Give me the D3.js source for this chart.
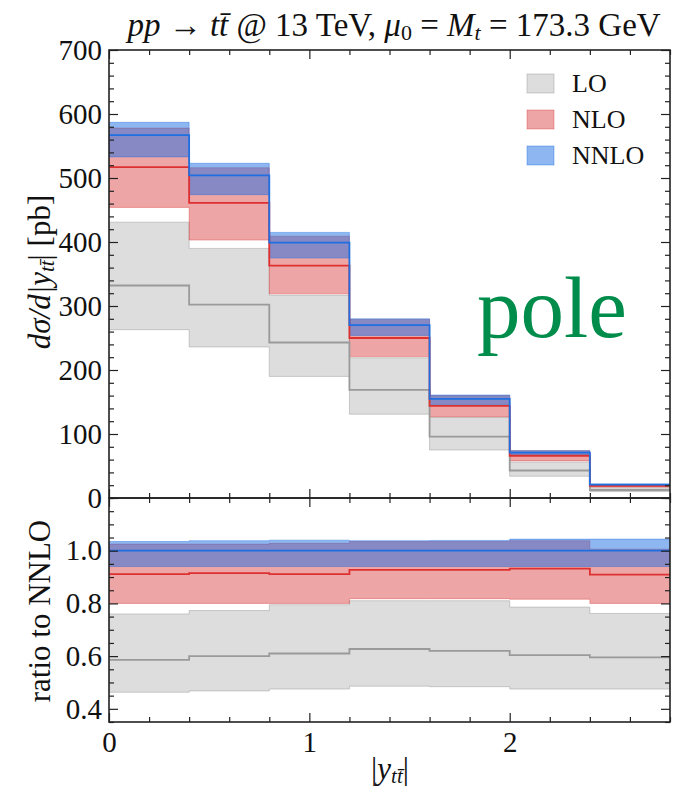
<!DOCTYPE html>
<html lang="en">
<head>
  <meta charset="UTF-8">
  <title>pp -> tt rapidity</title>
  <script src="https://d3js.org/d3.v7.min.js"></script>
  <style>
    body { margin: 0; background: #fff; }
    text { font-family: "Liberation Serif", "DejaVu Serif", serif; fill: #111; }
  </style>
</head>
<body>
  <div id="chart"></div>
  <script>
    // bin edges in |y_tt|
    const edges = [0, 0.4, 0.8, 1.2, 1.6, 2.0, 2.4, 2.8];

    // upper panel, pb
    const nnlo   = [567, 504, 399, 270, 155, 71, 21];
    const nnloHi = [587, 523, 415, 280, 161, 74, 22];
    const nnloLo = [533, 474, 375, 254, 146, 67, 20];
    const nlo    = [517, 461, 363, 250, 144, 66, 19];
    const nloHi  = [578, 516, 409, 279, 160, 74, 21];
    const nloLo  = [454, 403, 319, 221, 127, 58, 17];
    const lo     = [332, 302, 243, 169, 96, 43, 12.5];
    const loHi   = [431, 390, 317, 219, 126, 56, 16];
    const loLo   = [263, 236, 190, 131, 75, 34, 10];

    // lower panel, ratio to NNLO
    const rNnlo   = [1, 1, 1, 1, 1, 1, 1];
    const rNnloHi = [1.035, 1.038, 1.040, 1.038, 1.039, 1.044, 1.044];
    const rNnloLo = [0.94, 0.94, 0.94, 0.94, 0.94, 0.94, 0.94];
    const rNlo    = [0.911, 0.915, 0.911, 0.927, 0.927, 0.932, 0.909];
    const rNloHi  = [1.025, 1.025, 1.028, 1.035, 1.035, 1.038, 1.006];
    const rNloLo  = [0.80, 0.80, 0.80, 0.818, 0.818, 0.816, 0.80];
    const rLo     = [0.586, 0.600, 0.610, 0.627, 0.620, 0.604, 0.595];
    const rLoHi   = [0.760, 0.773, 0.795, 0.810, 0.810, 0.786, 0.762];
    const rLoLo   = [0.463, 0.468, 0.475, 0.486, 0.484, 0.475, 0.475];

    const yTicksTop = [0, 100, 200, 300, 400, 500, 600, 700];
    const yTicksBot = [0.4, 0.6, 0.8, 1.0];
    const xTicks = [0, 1, 2];
    const legendNames = ["LO", "NLO", "NNLO"];

    const W = 673, H = 793;
    const L = 109, R = 670, T1 = 50, B1 = 498, B2 = 722;

    const col = {
      LO:   { fill: "rgba(175,175,175,0.42)", edge: "rgba(150,150,150,0.45)", line: "#9a9a9a" },
      NLO:  { fill: "rgba(214,40,40,0.42)",   edge: "rgba(214,40,40,0.35)",   line: "#dd3030" },
      NNLO: { fill: "rgba(30,110,225,0.5)",   edge: "rgba(30,110,225,0.4)",   line: "#1f6fe0" }
    };

    const svg = d3.select("#chart").append("svg")
      .attr("width", W).attr("height", H);

    const x = d3.scaleLinear().domain([0, 2.8]).range([L, R]);
    const y1 = d3.scaleLinear().domain([0, 700]).range([B1, T1]);
    const y2 = d3.scaleLinear().domain([0.35, 1.2]).range([B2, B1]);

    const defs = svg.append("defs");
    defs.append("clipPath").attr("id", "c1").append("rect")
      .attr("x", L).attr("y", T1).attr("width", R - L).attr("height", B1 - T1);
    defs.append("clipPath").attr("id", "c2").append("rect")
      .attr("x", L).attr("y", B1).attr("width", R - L).attr("height", B2 - B1);

    const pts = vals => edges.map((e, i) => [e, vals[Math.min(i, vals.length - 1)]]);

    function drawPanel(g, y, sets) {
      const area = d3.area().curve(d3.curveStepAfter)
        .x(d => x(d[0])).y0(d => y(d[1])).y1(d => y(d[2]));
      const line = d3.line().curve(d3.curveStepAfter)
        .x(d => x(d[0])).y(d => y(d[1]));
      sets.forEach(s => {
        const band = edges.map((e, i) => {
          const k = Math.min(i, s.lo.length - 1);
          return [e, s.lo[k], s.hi[k]];
        });
        g.append("path").attr("d", area(band))
          .attr("fill", col[s.name].fill)
          .attr("stroke", col[s.name].edge).attr("stroke-width", 1);
      });
      sets.forEach(s => {
        g.append("path").attr("d", line(pts(s.c)))
          .attr("fill", "none")
          .attr("stroke", col[s.name].line).attr("stroke-width", 1.8);
      });
    }

    const g1 = svg.append("g").attr("clip-path", "url(#c1)");
    drawPanel(g1, y1, [
      { name: "LO", c: lo, lo: loLo, hi: loHi },
      { name: "NLO", c: nlo, lo: nloLo, hi: nloHi },
      { name: "NNLO", c: nnlo, lo: nnloLo, hi: nnloHi }
    ]);

    const g2 = svg.append("g").attr("clip-path", "url(#c2)");
    drawPanel(g2, y2, [
      { name: "LO", c: rLo, lo: rLoLo, hi: rLoHi },
      { name: "NLO", c: rNlo, lo: rNloLo, hi: rNloHi },
      { name: "NNLO", c: rNnlo, lo: rNnloLo, hi: rNnloHi }
    ]);

    // axes, ticks pointing inward on all sides
    function axes(y, top, bottom, major, minor, fmt, showX) {
      const ax = svg.append("g");
      ax.append("g").attr("transform", `translate(${L},0)`)
        .call(d3.axisLeft(y).tickValues(major).tickSize(-9).tickPadding(7).tickFormat(fmt));
      ax.append("g").attr("transform", `translate(${L},0)`)
        .call(d3.axisLeft(y).tickValues(minor).tickSize(-5).tickFormat(""));
      ax.append("g").attr("transform", `translate(${R},0)`)
        .call(d3.axisRight(y).tickValues(major).tickSize(-9).tickFormat(""));
      ax.append("g").attr("transform", `translate(${R},0)`)
        .call(d3.axisRight(y).tickValues(minor).tickSize(-5).tickFormat(""));
      const xMinor = d3.range(0, 2.81, 0.2).map(v => +v.toFixed(1)).filter(v => !xTicks.includes(v));
      ax.append("g").attr("transform", `translate(0,${bottom})`)
        .call(d3.axisBottom(x).tickValues(xTicks).tickSize(-9).tickPadding(9)
          .tickFormat(showX ? d3.format("d") : ""));
      ax.append("g").attr("transform", `translate(0,${bottom})`)
        .call(d3.axisBottom(x).tickValues(xMinor).tickSize(-5).tickFormat(""));
      ax.append("g").attr("transform", `translate(0,${top})`)
        .call(d3.axisTop(x).tickValues(xTicks).tickSize(-9).tickFormat(""));
      ax.append("g").attr("transform", `translate(0,${top})`)
        .call(d3.axisTop(x).tickValues(xMinor).tickSize(-5).tickFormat(""));
      ax.selectAll(".domain").remove();
      ax.selectAll(".tick line").attr("stroke", "#222").attr("stroke-width", 1.2);
      ax.selectAll(".tick text").attr("fill", "#111")
        .style("font-family", "'Liberation Serif', serif").style("font-size", "29px");
      svg.append("rect").attr("x", L).attr("y", top)
        .attr("width", R - L).attr("height", bottom - top)
        .attr("fill", "none").attr("stroke", "#222").attr("stroke-width", 1.6);
    }

    const minorTop = d3.range(0, 701, 20).filter(v => v % 100 !== 0);
    const minorBot = d3.range(0.35, 1.2001, 0.05).map(v => +v.toFixed(2))
      .filter(v => !yTicksBot.some(t => Math.abs(t - v) < 1e-6));
    axes(y1, T1, B1, yTicksTop, minorTop, d3.format("d"), false);
    axes(y2, B1, B2, yTicksBot, minorBot, d3.format(".1f"), true);

    // small helper for a lowered index
    const sub = (t, s, size) => t.append("tspan").attr("baseline-shift", "-4px")
      .attr("font-style", "italic").style("font-size", size).text(s);

    // title
    const title = svg.append("text").attr("x", 394).attr("y", 36)
      .attr("text-anchor", "middle").style("font-size", "33px");
    title.append("tspan").attr("font-style", "italic").text("pp");
    title.append("tspan").text(" \u2192 ");
    title.append("tspan").attr("font-style", "italic").text("tt\u0304");
    title.append("tspan").text(" @ 13 TeV, ");
    title.append("tspan").attr("font-style", "italic").text("\u03bc");
    sub(title, "0", "22px").attr("font-style", "normal");
    title.append("tspan").text(" = ");
    title.append("tspan").attr("font-style", "italic").text("M");
    sub(title, "t", "22px");
    title.append("tspan").text(" = 173.3 GeV");

    // y labels
    const yl = svg.append("text")
      .attr("transform", `translate(50,${(T1 + B1) / 2 - 2}) rotate(-90)`)
      .attr("text-anchor", "middle").style("font-size", "31px");
    yl.append("tspan").attr("font-style", "italic").text("d\u03c3/d|y");
    sub(yl, "tt\u0304", "21px");
    yl.append("tspan").text("| [pb]");

    svg.append("text")
      .attr("transform", `translate(50,${(B1 + B2) / 2 + 1}) rotate(-90)`)
      .attr("text-anchor", "middle").style("font-size", "31px")
      .text("ratio to NNLO");

    // x label
    const xl = svg.append("text").attr("x", 390).attr("y", 779)
      .attr("text-anchor", "middle").style("font-size", "31px");
    xl.append("tspan").text("|");
    xl.append("tspan").attr("font-style", "italic").text("y");
    sub(xl, "tt\u0304", "21px");
    xl.append("tspan").text("|");

    // legend
    const leg = svg.append("g");
    legendNames.forEach((n, i) => {
      const yy = 74 + i * 36;
      leg.append("rect").attr("x", 527).attr("y", yy).attr("width", 27).attr("height", 19)
        .attr("fill", col[n].fill).attr("stroke", col[n].edge).attr("stroke-width", 1);
      leg.append("text").attr("x", 572).attr("y", yy + 18)
        .style("font-size", "26px").text(n);
    });

    // scheme label
    svg.append("text").attr("x", 477).attr("y", 337)
      .style("font-size", "87px").style("fill", "#008c4b").text("pole");
  </script>
</body>
</html>
